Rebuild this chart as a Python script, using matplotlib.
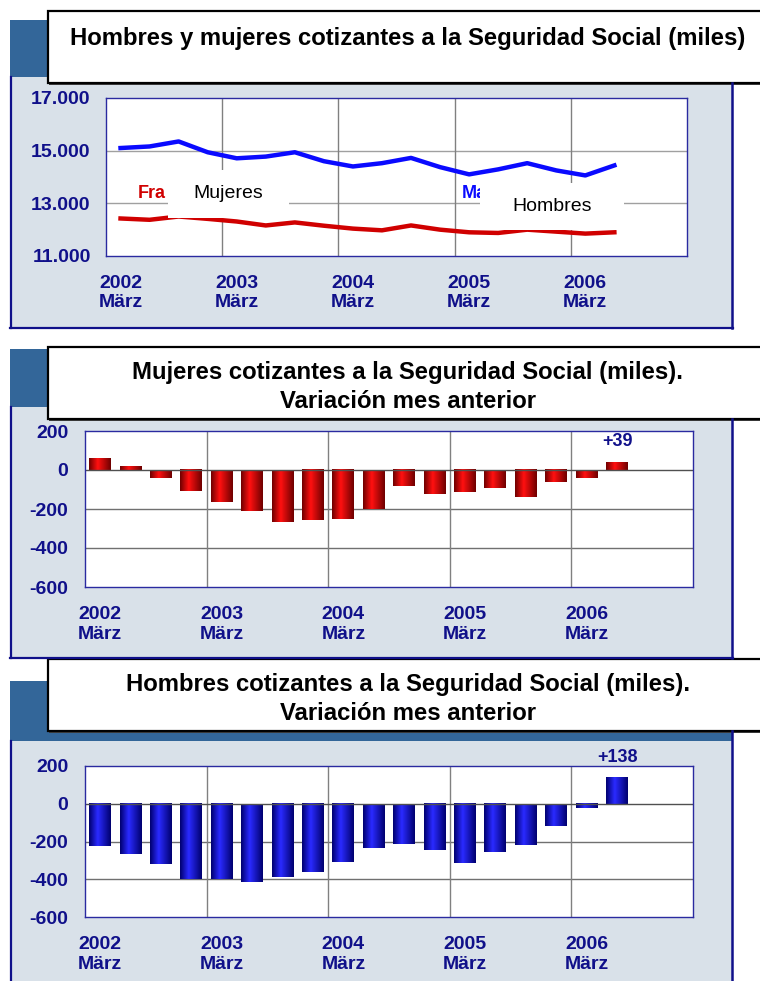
"""Cotizantes a la Seguridad Social: hombres y mujeres, niveles y variación."""

import matplotlib

matplotlib.use("Agg")
import matplotlib.pyplot as plt
import numpy as np
from matplotlib.patches import Rectangle

plt.rcParams["font.family"] = ["Liberation Sans", "DejaVu Sans"]

# quarterly points, 2002 März .. 2006 Juni
year_labels = ["2002\nMärz", "2003\nMärz", "2004\nMärz", "2005\nMärz", "2006\nMärz"]
hombres = [15100, 15160, 15350, 14940, 14710, 14775, 14940, 14600, 14400,
           14525, 14725, 14375, 14100, 14290, 14525, 14250, 14060, 14440]
mujeres = [12425, 12375, 12500, 12410, 12310, 12160, 12275, 12150, 12040,
           11975, 12160, 12000, 11900, 11875, 12000, 11925, 11850, 11900]
var_mujeres = [57, 20, -40, -110, -162, -210, -265, -257, -252,
               -198, -83, -123, -115, -92, -140, -62, -40, 39]
var_hombres = [-225, -267, -319, -398, -398, -412, -388, -361, -310,
               -233, -211, -244, -316, -256, -216, -116, -25, 138]

W, H = 760, 981
NAVY = "#10108a"
PANEL = "#d9e1e9"
TAB = "#336699"

fig = plt.figure(figsize=(W / 100, H / 100), dpi=100)
bg = fig.add_axes([0, 0, 1, 1], zorder=0)
bg.set_xlim(0, W)
bg.set_ylim(H, 0)
bg.axis("off")


def px_axes(x0, y0, x1, y1):
    return fig.add_axes([x0 / W, 1 - y1 / H, (x1 - x0) / W, (y1 - y0) / H], zorder=2)


def panel(tab_top, light_top, bottom, box_top, box_bottom, lines):
    bg.add_patch(Rectangle((10, tab_top), 723, light_top - tab_top, color=TAB, lw=0))
    bg.add_patch(Rectangle((10, light_top), 723, bottom - light_top, color=PANEL, lw=0))
    bg.plot([10.5, 10.5], [light_top, bottom], color=NAVY, lw=1.6)
    bg.plot([732, 732], [box_bottom, bottom], color=NAVY, lw=1.8)
    if bottom < H:
        bg.plot([10, 733], [bottom, bottom], color=NAVY, lw=1.6)
    bg.add_patch(Rectangle((49, box_top + 1.5), 720, box_bottom - box_top, color="#404040", lw=0))
    bg.add_patch(Rectangle((48, box_top), 720, box_bottom - box_top,
                           facecolor="white", edgecolor="black", lw=1.6))
    for text, y in lines:
        bg.text(408, y, text, ha="center", va="center", fontsize=17.2,
                fontweight="bold", color="black")


panel(20, 77, 328, 11, 83,
      [("Hombres y mujeres cotizantes a la Seguridad Social (miles)", 38)])
panel(349, 407, 658, 347, 419,
      [("Mujeres cotizantes a la Seguridad Social (miles).", 373),
       ("Variación mes anterior", 401)])
panel(681, 741, H + 5, 659, 731,
      [("Hombres cotizantes a la Seguridad Social (miles).", 685),
       ("Variación mes anterior", 713)])


def style_axes(ax, pad_y, pad_x, spacing):
    ax.set_xlim(-0.5, 19.5)
    ax.set_xticks(range(0, 20, 4))
    ax.set_xticklabels(year_labels, linespacing=spacing)
    for s in ax.spines.values():
        s.set_color("#2a2aa0")
        s.set_linewidth(1.0)
    ax.tick_params(axis="both", length=0, labelcolor=NAVY, labelsize=14)
    ax.tick_params(axis="y", pad=pad_y)
    ax.tick_params(axis="x", pad=pad_x)
    for lab in ax.get_xticklabels() + ax.get_yticklabels():
        lab.set_fontweight("bold")
    for xv in (3.5, 7.5, 11.5, 15.5):
        ax.axvline(xv, color="#808080", lw=1.0, zorder=0.5)


# top: levels
ax1 = px_axes(106, 98, 687, 256)
x = np.arange(len(hombres))
ax1.set_ylim(11000, 17000)
ax1.set_yticks([11000, 13000, 15000, 17000])
ax1.set_yticklabels(["11.000", "13.000", "15.000", "17.000"])
for yv in (13000, 15000):
    ax1.axhline(yv, color="#a0a0a0", lw=1.0, zorder=0.5)
ax1.plot(x, hombres, color="#0a0aff", lw=3.2, solid_joinstyle="round", zorder=3)
ax1.plot(x, mujeres, color="#d00000", lw=3.2, solid_joinstyle="round", zorder=3)
style_axes(ax1, 11, 14, 1.12)

# series labels partly hidden by white boxes, as in the original
ax1.text(138, 193, "Fra", transform=bg.transData, color="#d00000", fontsize=13,
         fontweight="bold", ha="left", va="center", zorder=4)
ax1.text(462, 194, "Ma", transform=bg.transData, color="#0a0aff", fontsize=13,
         fontweight="bold", ha="left", va="center", zorder=4)
for (bx0, by0, bx1, by1), name in [((168, 170, 289, 218), "Mujeres"),
                                   ((480, 183, 624, 230), "Hombres")]:
    ax1.add_patch(Rectangle((bx0, by0), bx1 - bx0, by1 - by0, transform=bg.transData,
                            facecolor="white", edgecolor="none", zorder=5, clip_on=False))
    ax1.text((bx0 + bx1) / 2, (by0 + by1) / 2, name, transform=bg.transData,
             fontsize=14, color="black", ha="center", va="center", zorder=6)


def gradient_bars(ax, values, dark, light):
    grad = np.concatenate([np.linspace(0, 1, 40), np.linspace(1, 0, 60)])
    cols = np.array([matplotlib.colors.to_rgb(dark), matplotlib.colors.to_rgb(light)])
    img = cols[0] + (cols[1] - cols[0]) * grad[:, None]
    w = 0.36
    for i, v in enumerate(values):
        ax.imshow(img[None, :, :], extent=[i - w, i + w, 0, v], aspect="auto",
                  interpolation="bilinear", zorder=2)
    ax.set_aspect("auto")


def bar_chart(rect, values, dark, light, label, label_y):
    ax = px_axes(*rect)
    gradient_bars(ax, values, dark, light)
    ax.set_ylim(-600, 200)
    ax.set_yticks([-600, -400, -200, 0, 200])
    ax.set_yticklabels(["-600", "-400", "-200", "0", "200"])
    for yv in (-400, -200):
        ax.axhline(yv, color="#707070", lw=1.0, zorder=0.5)
    ax.axhline(0, color="#505050", lw=1.0, zorder=2.5)
    style_axes(ax, 12, 13.5, 1.25)
    last = len(values) - 1
    ax.text(last, label_y, label, ha="center", va="center", fontsize=13,
            fontweight="bold", color=NAVY, clip_on=False)
    return ax


bar_chart((85, 431, 693, 587), var_mujeres, "#6e0000", "#ff1010", "+39", 144)
bar_chart((85, 766, 693, 917), var_hombres, "#00006e", "#2a2aff", "+138", 243)

fig.savefig("out.png", dpi=100)
